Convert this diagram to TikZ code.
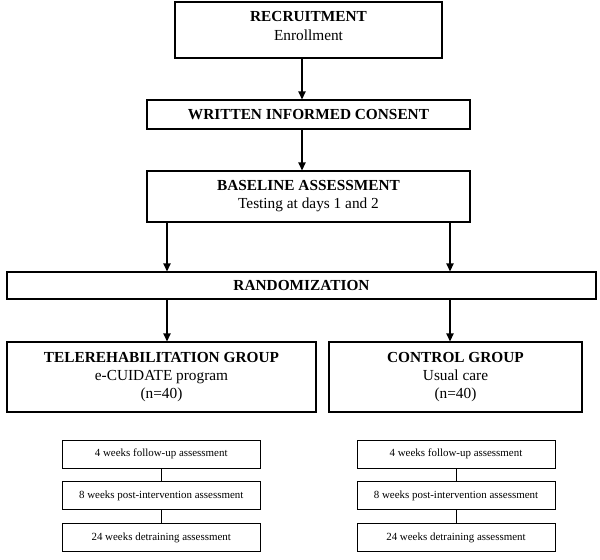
\documentclass[tikz,border=0pt]{standalone}
\usepackage{fontspec}
\setmainfont{Liberation Serif}
\usetikzlibrary{arrows.meta}

\tikzset{every picture/.style={line width=0.75pt}}
\tikzset{
	bigtext/.style={align=center, inner sep=0pt, font=\fontsize{11.5}{13.5}\selectfont},
	bigbox/.style={bigtext, draw, line width=0.9pt},
	smallbox/.style={draw, line width=0.6pt, align=center, inner sep=0pt, minimum width=148.5pt, minimum height=21pt, font=\fontsize{8.2}{10}\selectfont},
	flowarrow/.style={line width=1.1pt, -{Triangle[length=6pt,width=5.5pt]}},
	joinline/.style={line width=0.6pt}
}

\begin{document}
\begin{tikzpicture}[x=0.75pt,y=0.75pt,yscale=-1,xscale=1]
	\useasboundingbox (0,0) rectangle (600,560);

	% Arrow columns
	\coordinate (midcol) at (302,0);
	\coordinate (leftcol) at (167,0);
	\coordinate (rightcol) at (450,0);

	%Shape: Rectangle
	\node[bigbox, minimum width=200.25pt, minimum height=42pt, label={[bigtext, yshift=3pt]center:{\textbf{RECRUITMENT}\\Enrollment}}] (recruit) at (308.5,30) {};
	%Shape: Rectangle
	\node[bigbox, minimum width=242.25pt, minimum height=21.75pt] (consent) at (308.5,114.5) {\textbf{WRITTEN INFORMED CONSENT}};
	%Shape: Rectangle
	\node[bigbox, minimum width=242.25pt, minimum height=38.25pt] (baseline) at (308.5,196.5) {\textbf{BASELINE ASSESSMENT}\\Testing at days 1 and 2};
	%Shape: Rectangle
	\node[bigbox, minimum width=441.75pt, minimum height=20.25pt] (random) at (301.5,285.5) {\textbf{RANDOMIZATION}};
	%Shape: Rectangle
	\node[bigbox, minimum width=231.75pt, minimum height=52.5pt] (telegroup) at (161.5,377) {\textbf{TELEREHABILITATION GROUP}\\e-CUIDATE program\\(n=40)};
	%Shape: Rectangle
	\node[bigbox, minimum width=189.75pt, minimum height=52.5pt] (ctrlgroup) at (455.5,377) {\textbf{CONTROL GROUP}\\Usual care\\(n=40)};

	% Follow-up boxes
	\node[smallbox] (tele4) at (161.25,454) {4 weeks follow-up assessment};
	\node[smallbox] (tele8) at (161.25,495.5) {8 weeks post-intervention assessment};
	\node[smallbox] (tele24) at (161.25,537.5) {24 weeks detraining assessment};
	\node[smallbox] (ctrl4) at (456,454) {4 weeks follow-up assessment};
	\node[smallbox] (ctrl8) at (456,495.5) {8 weeks post-intervention assessment};
	\node[smallbox] (ctrl24) at (456,537.5) {24 weeks detraining assessment};

	%Straight Lines
	\draw[flowarrow] (recruit.south -| midcol) -- (consent.north -| midcol);
	\draw[flowarrow] (consent.south -| midcol) -- (baseline.north -| midcol);
	\draw[flowarrow] (baseline.south -| leftcol) -- (random.north -| leftcol);
	\draw[flowarrow] (baseline.south -| rightcol) -- (random.north -| rightcol);
	\draw[flowarrow] (random.south -| leftcol) -- (telegroup.north -| leftcol);
	\draw[flowarrow] (random.south -| rightcol) -- (ctrlgroup.north -| rightcol);

	%Straight Lines
	\draw[joinline] (tele4) -- (tele8);
	\draw[joinline] (tele8) -- (tele24);
	\draw[joinline] (ctrl4) -- (ctrl8);
	\draw[joinline] (ctrl8) -- (ctrl24);

\end{tikzpicture}
\end{document}
